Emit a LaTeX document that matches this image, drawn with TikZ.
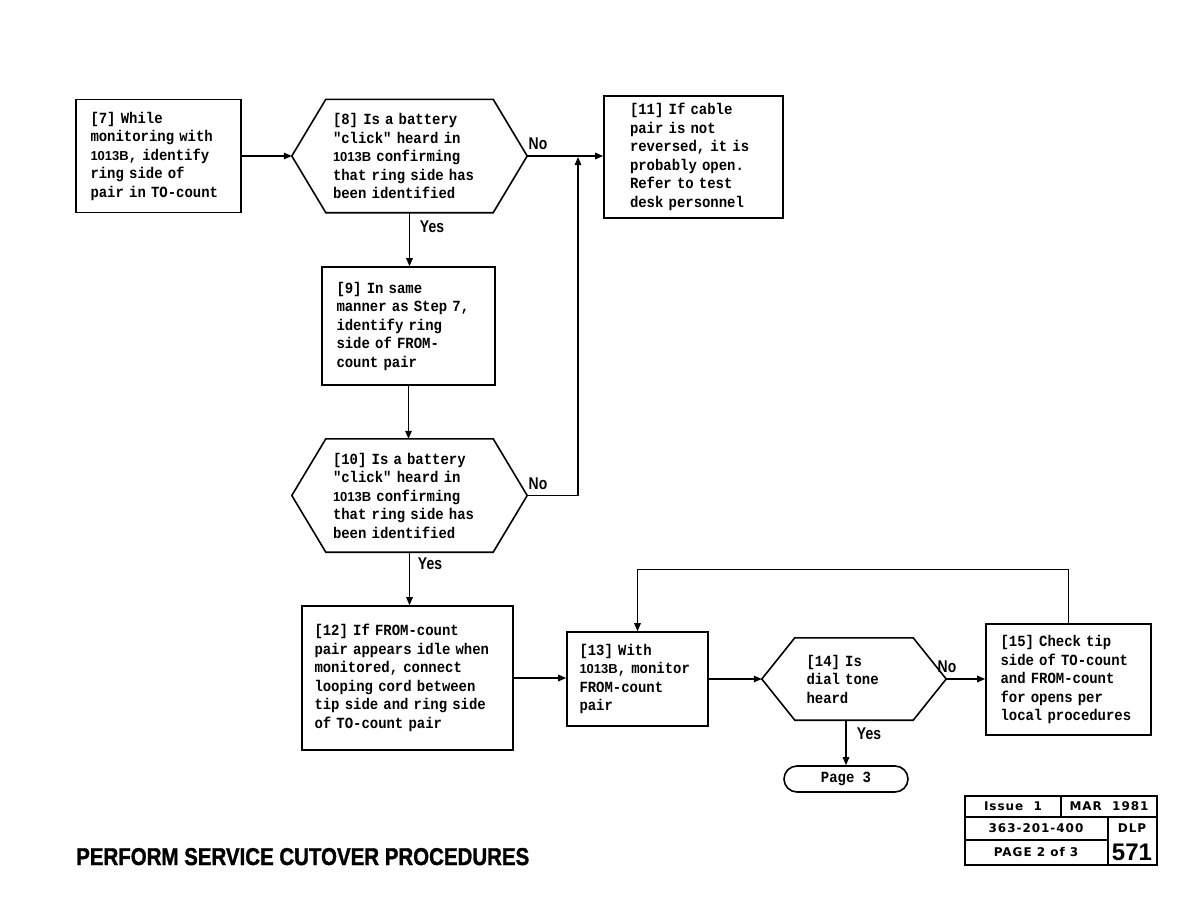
\documentclass[tikz,border=0pt]{standalone}
\usepackage{fontspec}
\usepackage{graphicx}
\usetikzlibrary{arrows.meta,calc}
\newfontfamily\mymono{Liberation Mono}[FakeStretch=0.9]
\newfontfamily\sansf{Liberation Sans}
\newfontfamily\titlef{Liberation Sans}[FakeBold=1.5]
\newfontfamily\condf{Liberation Sans}[FakeStretch=0.82]
\newfontfamily\tabf{DejaVu Sans}[LetterSpace=8]
\newcommand{\ib}{{\sansf\bfseries\fontsize{13}{18.5}\selectfont 1013B}}
\newcommand{\monotext}{\mymono\bfseries\fontsize{15.5}{18.5}\selectfont\spaceskip 8.37pt\relax}
\newcommand{\hexdraw}[2]{\draw[hexline] (#1.west) -- ($(#1.north west)+(#2,0)$) -- ($(#1.north east)+(-#2,0)$) -- (#1.east) -- ($(#1.south east)+(-#2,0)$) -- ($(#1.south west)+(#2,0)$) -- cycle;}
\tikzset{
  txt/.style={align=left, inner sep=0pt, font=\monotext},
  box/.style={txt, draw, line width=1.6pt},
  hexnode/.style={txt},
  hexline/.style={line width=1.6pt, line join=miter},
  flow/.style={line width=1.4pt, -{Triangle[length=8pt,width=6.5pt]}},
  lbl/.style={inner sep=0pt, font=\condf\bfseries\fontsize{17}{19}\selectfont},
  term/.style={draw, line width=1.6pt, rounded corners=13pt, inner sep=0pt, font=\monotext},
  tab/.style={inner sep=0pt, font=\tabf\bfseries\fontsize{12}{14}\selectfont},
}
\begin{document}
\begin{tikzpicture}[x=1pt,y=-1pt]
\useasboundingbox (0,0) rectangle (1188,918);

% boxes
\node[box, minimum width=165pt, minimum height=113pt, text width=136pt] (b7) at (158.5,156)
  {[7] While\\monitoring with\\\ib, identify\\ring side of\\pair in TO-count};
\node[box, minimum width=179pt, minimum height=122pt, text width=127pt] (b11) at (693.5,157)
  {[11] If cable\\pair is not\\reversed, it is\\probably open.\\Refer to test\\desk personnel};
\node[box, minimum width=173pt, minimum height=118pt, text width=144pt] (b9) at (408.5,326)
  {[9] In same\\manner as Step 7,\\identify ring\\side of FROM-\\count pair};
\node[box, minimum width=211pt, minimum height=144pt, text width=186pt] (b12) at (407.5,678)
  {[12] If FROM-count\\pair appears idle when\\monitored, connect\\looping cord between\\tip side and ring side\\of TO-count pair};
\node[box, minimum width=141pt, minimum height=94pt, text width=116pt] (b13) at (637.5,679)
  {[13] With\\\ib, monitor\\FROM-count\\pair};
\node[box, minimum width=165pt, minimum height=111pt, text width=136pt] (b15) at (1068.5,679.5)
  {[15] Check tip\\side of TO-count\\and FROM-count\\for opens per\\local procedures};

% hexagons
\node[hexnode, minimum width=235pt, minimum height=113pt, text width=153pt] (h8) at (409.5,156)
  {[8] Is a battery\\"click" heard in\\\ib{} confirming\\that ring side has\\been identified};
\hexdraw{h8}{34}
\node[hexnode, minimum width=235pt, minimum height=113pt, text width=153pt] (h10) at (409.5,495.5)
  {[10] Is a battery\\"click" heard in\\\ib{} confirming\\that ring side has\\been identified};
\hexdraw{h10}{34}
\node[hexnode, minimum width=184pt, minimum height=82pt, text width=95pt] (h14) at (854,679)
  {[14] Is\\dial tone\\heard};
\hexdraw{h14}{33}

% terminal
\node[term, minimum width=124pt, minimum height=26pt] (t3) at (846,779) {Page 3};

% connectors
\coordinate (j1) at (578,157);
\draw[flow] (b7.east) -- (h8.west);
\draw[flow] (h8.east) -- (h8.east -| b11.west);
\draw[flow] (h8.south) -- (h8.south |- b9.north);
\draw[flow] (b9.south) -- (b9.south |- h10.north);
\draw[flow] (h10.east) -| (j1);
\draw[flow] (h10.south) -- (h10.south |- b12.north);
\draw[flow] (b12.east) -- (b12.east -| b13.west);
\draw[flow] (b13.east) -- (b13.east -| h14.west);
\draw[flow] (h14.east) -- (h14.east -| b15.west);
\draw[flow] (b15.north) -- ++(0,-54) -| (b13.north);
\draw[flow] (t3.north |- h14.south) -- (t3.north);

% labels
\node[lbl] (n8) at (538,144) {No};
\node[lbl] (y8) at (432,227) {Yes};
\node[lbl] (n10) at (538,484) {No};
\node[lbl] (y10) at (430,564) {Yes};
\node[lbl] (n14) at (947,667) {No};
\node[lbl] (y14) at (869,734) {Yes};

% table
\draw[line width=1.4pt] (965,796) rectangle (1157,865);
\draw[line width=1.4pt] (965,817) -- (1157,817);
\draw[line width=1.4pt] (965,840) -- (1108,840);
\draw[line width=1.4pt] (1061,796) -- (1061,817);
\draw[line width=1.4pt] (1108,817) -- (1108,865);
\node[tab] (c1) at (1013,806.5) {Issue\ \ 1};
\node[tab] (c2) at (1109,806.5) {MAR\ \ 1981};
\node[tab] (c3) at (1036,828.5) {363-201-400};
\node[tab] (c4) at (1132,828.5) {DLP};
\node[tab] (c5) at (1036,852.5) {PAGE 2 of 3};
\node[tab, font=\sansf\bfseries\fontsize{24}{26}\selectfont] (c6) at (1132,852.5) {571};

% title
\node[anchor=base west, inner sep=0pt] (title) at (76,865)
  {\resizebox{453pt}{17pt}{\titlef\bfseries PERFORM SERVICE CUTOVER PROCEDURES}};
\end{tikzpicture}
\end{document}
